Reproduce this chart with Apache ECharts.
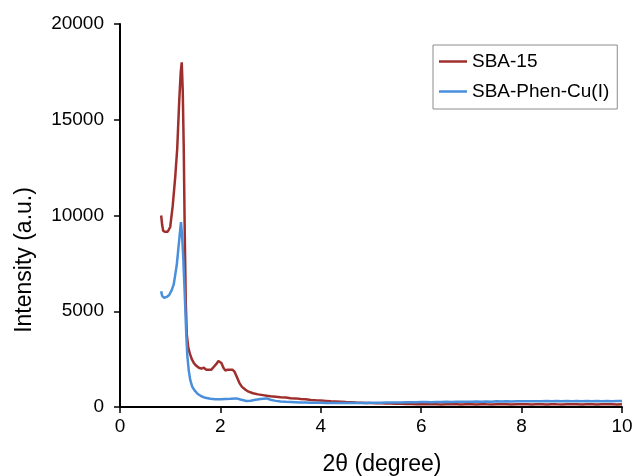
<!DOCTYPE html>
<html>
<head>
<meta charset="utf-8">
<script src="https://cdn.jsdelivr.net/npm/echarts@6/dist/echarts.min.js"></script>
<style>html,body{margin:0;padding:0;background:#fff}#c{width:636px;height:476px}</style>
</head>
<body>
<div id="c"></div>
<script>
// ---- data ----
const seriesNames = ["SBA-15", "SBA-Phen-Cu(I)"];
const xTickLabels = ["0", "2", "4", "6", "8", "10"];
const yTickLabels = ["0", "5000", "10000", "15000", "20000"];

const sba15Theta = [0.82,0.84,0.86,0.90,0.95,1.00,1.05,1.10,1.14,1.18,1.21,1.23,1.25,1.27,1.29,1.31,1.33,1.36,1.39,1.43,1.47,1.52,1.57,1.62,1.67,1.72,1.77,1.82,1.87,1.92,1.96,1.99,2.02,2.06,2.10,2.14,2.19,2.24,2.28,2.33,2.38,2.43,2.50,2.56,2.65,2.75,2.85,2.95,
3.0,3.1,3.2,3.3,3.4,3.5,3.6,3.7,3.8,3.9,4.0,4.1,4.2,4.3,4.4,4.5,4.6,4.7,4.8,4.9,5.0,5.1,5.2,5.3,5.4,5.5,5.6,5.7,5.8,5.9,6.0,6.1,6.2,6.3,6.4,6.5,6.6,6.7,6.8,6.9,7.0,7.1,7.2,7.3,7.4,7.5,7.6,7.7,7.8,7.9,8.0,8.1,8.2,8.3,8.4,8.5,8.6,8.7,8.8,8.9,9.0,9.1,9.2,9.3,9.4,9.5,9.6,9.7,9.8,9.9,10.0];
const sba15Intensity = [10000,9500,9200,9150,9150,9400,10500,12000,13500,16000,17500,18000,16500,13500,9000,5500,3800,3100,2800,2500,2300,2150,2050,2000,2050,1950,1950,1950,2100,2250,2400,2480,2300,2050,1900,1950,1950,1950,1850,1550,1250,1050,900,800,720,660,620,580,
560,540,510,490,460,450,420,400,370,350,340,320,300,285,270,255,245,230,225,215,205,200,190,185,180,170,165,160,155,150,150,140,150,145,135,145,140,150,135,140,145,135,150,140,135,145,140,150,135,145,140,150,135,140,145,135,150,140,135,145,140,150,135,140,145,135,150,140,145,135,140];

const phenTheta = [0.82,0.84,0.88,0.93,0.98,1.03,1.07,1.10,1.13,1.16,1.19,1.215,1.24,1.26,1.28,1.30,1.32,1.34,1.37,1.40,1.44,1.49,1.55,1.62,1.70,1.80,1.90,2.00,2.10,2.20,2.32,2.40,2.52,2.60,2.70,2.80,2.92,
3.0,3.1,3.2,3.3,3.4,3.5,3.6,3.7,3.8,3.9,4.0,4.1,4.2,4.3,4.4,4.5,4.6,4.7,4.8,4.9,5.0,5.1,5.2,5.3,5.4,5.5,5.6,5.7,5.8,5.9,6.0,6.1,6.2,6.3,6.4,6.5,6.6,6.7,6.8,6.9,7.0,7.1,7.2,7.3,7.4,7.5,7.6,7.7,7.8,7.9,8.0,8.1,8.2,8.3,8.4,8.5,8.6,8.7,8.8,8.9,9.0,9.1,9.2,9.3,9.4,9.5,9.6,9.7,9.8,9.9,10.0];
const phenIntensity = [6050,5800,5700,5750,5850,6100,6400,6900,7400,8200,9000,9650,8800,7800,6500,5200,3800,2700,1900,1400,1050,850,680,560,480,430,410,400,420,430,450,390,310,330,380,420,450,
380,320,290,270,260,250,240,235,225,220,220,215,210,215,210,205,210,215,210,215,220,225,220,230,235,240,235,245,250,245,255,260,250,265,260,270,265,275,270,280,275,285,280,290,280,295,285,295,290,300,295,305,295,305,300,310,300,310,305,310,300,315,305,310,305,315,305,310,305,315,310];

// ---- chart ----
const pairs = (xs, ys) => xs.map((x, i) => [x, ys[i]]);
const fontFam = '"Liberation Sans", Arial, sans-serif';
const chart = echarts.init(document.getElementById('c'), null, {renderer: 'canvas'});
chart.setOption({
  animation: false,
  backgroundColor: '#ffffff',
  grid: {left: 120, right: 14, top: 24, bottom: 69, containLabel: false},
  xAxis: {
    type: 'value', min: 0, max: 10, interval: 2,
    axisLine: {show: true, onZero: false, lineStyle: {color: '#000', width: 2}},
    axisTick: {show: true, inside: false, length: 6, lineStyle: {color: '#000', width: 1.5}},
    splitLine: {show: false},
    axisLabel: {color: '#000', fontSize: 19, fontFamily: fontFam, margin: 10,
      formatter: v => xTickLabels[Math.round(v / 2)]}
  },
  yAxis: {
    type: 'value', min: 0, max: 20000, interval: 5000,
    axisLine: {show: true, lineStyle: {color: '#000', width: 2}},
    axisTick: {show: true, inside: false, length: 6, lineStyle: {color: '#000', width: 1.5}},
    splitLine: {show: false},
    axisLabel: {color: '#000', fontSize: 19, fontFamily: fontFam, margin: 16,
      formatter: v => yTickLabels[Math.round(v / 5000)]}
  },
  legend: {
    orient: 'vertical', left: 433, top: 45,
    backgroundColor: '#fff',
    borderColor: '#8c8c8c', borderWidth: 1,
    padding: [7, 8, 8, 6], itemGap: 11,
    icon: 'rect', itemWidth: 28, itemHeight: 2.5,
    textStyle: {color: '#000', fontSize: 19, fontFamily: fontFam},
    data: seriesNames
  },
  graphic: [
    {type: 'text', x: 382, y: 465, style: {text: '2θ (degree)', font: '23px ' + fontFam, fill: '#000', textAlign: 'center', textVerticalAlign: 'middle'}},
    {type: 'text', rotation: Math.PI / 2, x: 25, y: 260, style: {text: 'Intensity (a.u.)', font: '23px ' + fontFam, fill: '#000', textAlign: 'center', textVerticalAlign: 'middle'}}
  ],
  series: [
    {name: seriesNames[0], type: 'line', data: pairs(sba15Theta, sba15Intensity), showSymbol: false, smooth: false,
      lineStyle: {color: '#9e2f2c', width: 2.5}, itemStyle: {color: '#9e2f2c'}},
    {name: seriesNames[1], type: 'line', data: pairs(phenTheta, phenIntensity), showSymbol: false, smooth: false,
      lineStyle: {color: '#4a8fdc', width: 2.5}, itemStyle: {color: '#4a8fdc'}}
  ]
});
</script>
</body>
</html>
